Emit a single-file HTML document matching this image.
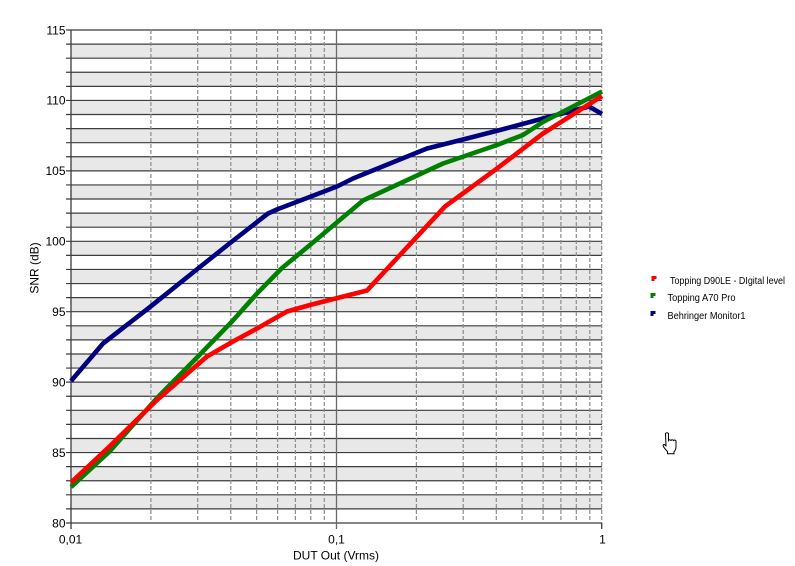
<!DOCTYPE html>
<html><head><meta charset="utf-8"><style>
html,body{margin:0;padding:0;background:#fff;}
svg{display:block;}
text{font-family:"Liberation Sans",Arial,sans-serif;fill:#000;}
</style></head><body>
<svg width="795" height="566" viewBox="0 0 795 566" xmlns="http://www.w3.org/2000/svg">
<rect width="795" height="566" fill="#fff"/>
<g id="bands" fill="#e8e8e8">
<rect x="71" y="44.09" width="531" height="14.09"/>
<rect x="71" y="72.26" width="531" height="14.09"/>
<rect x="71" y="100.43" width="531" height="14.09"/>
<rect x="71" y="128.60" width="531" height="14.09"/>
<rect x="71" y="156.77" width="531" height="14.09"/>
<rect x="71" y="184.94" width="531" height="14.09"/>
<rect x="71" y="213.11" width="531" height="14.09"/>
<rect x="71" y="241.29" width="531" height="14.09"/>
<rect x="71" y="269.46" width="531" height="14.09"/>
<rect x="71" y="297.63" width="531" height="14.09"/>
<rect x="71" y="325.80" width="531" height="14.09"/>
<rect x="71" y="353.97" width="531" height="14.09"/>
<rect x="71" y="382.14" width="531" height="14.09"/>
<rect x="71" y="410.31" width="531" height="14.09"/>
<rect x="71" y="438.49" width="531" height="14.09"/>
<rect x="71" y="466.66" width="531" height="14.09"/>
<rect x="71" y="494.83" width="531" height="14.09"/>
</g>
<g id="hgrid" stroke="#3c3c3c" stroke-width="1.2">
<line x1="66" x2="602" y1="30" y2="30"/>
<line x1="66" x2="602" y1="44.09" y2="44.09"/>
<line x1="66" x2="602" y1="58.17" y2="58.17"/>
<line x1="66" x2="602" y1="72.26" y2="72.26"/>
<line x1="66" x2="602" y1="86.34" y2="86.34"/>
<line x1="66" x2="602" y1="100.43" y2="100.43"/>
<line x1="66" x2="602" y1="114.51" y2="114.51"/>
<line x1="66" x2="602" y1="128.60" y2="128.60"/>
<line x1="66" x2="602" y1="142.69" y2="142.69"/>
<line x1="66" x2="602" y1="156.77" y2="156.77"/>
<line x1="66" x2="602" y1="170.86" y2="170.86"/>
<line x1="66" x2="602" y1="184.94" y2="184.94"/>
<line x1="66" x2="602" y1="199.03" y2="199.03"/>
<line x1="66" x2="602" y1="213.11" y2="213.11"/>
<line x1="66" x2="602" y1="227.20" y2="227.20"/>
<line x1="66" x2="602" y1="241.29" y2="241.29"/>
<line x1="66" x2="602" y1="255.37" y2="255.37"/>
<line x1="66" x2="602" y1="269.46" y2="269.46"/>
<line x1="66" x2="602" y1="283.54" y2="283.54"/>
<line x1="66" x2="602" y1="297.63" y2="297.63"/>
<line x1="66" x2="602" y1="311.71" y2="311.71"/>
<line x1="66" x2="602" y1="325.80" y2="325.80"/>
<line x1="66" x2="602" y1="339.89" y2="339.89"/>
<line x1="66" x2="602" y1="353.97" y2="353.97"/>
<line x1="66" x2="602" y1="368.06" y2="368.06"/>
<line x1="66" x2="602" y1="382.14" y2="382.14"/>
<line x1="66" x2="602" y1="396.23" y2="396.23"/>
<line x1="66" x2="602" y1="410.31" y2="410.31"/>
<line x1="66" x2="602" y1="424.40" y2="424.40"/>
<line x1="66" x2="602" y1="438.49" y2="438.49"/>
<line x1="66" x2="602" y1="452.57" y2="452.57"/>
<line x1="66" x2="602" y1="466.66" y2="466.66"/>
<line x1="66" x2="602" y1="480.74" y2="480.74"/>
<line x1="66" x2="602" y1="494.83" y2="494.83"/>
<line x1="66" x2="602" y1="508.91" y2="508.91"/>
<line x1="66" x2="602" y1="523" y2="523"/>
</g>
<g id="vgrid" stroke="#8c8c8c" stroke-width="1.2" stroke-dasharray="4,2">
<line x1="150.9" x2="150.9" y1="30" y2="523"/>
<line x1="197.7" x2="197.7" y1="30" y2="523"/>
<line x1="230.8" x2="230.8" y1="30" y2="523"/>
<line x1="256.6" x2="256.6" y1="30" y2="523"/>
<line x1="277.6" x2="277.6" y1="30" y2="523"/>
<line x1="295.4" x2="295.4" y1="30" y2="523"/>
<line x1="310.8" x2="310.8" y1="30" y2="523"/>
<line x1="324.3" x2="324.3" y1="30" y2="523"/>
<line x1="416.4" x2="416.4" y1="30" y2="523"/>
<line x1="463.2" x2="463.2" y1="30" y2="523"/>
<line x1="496.3" x2="496.3" y1="30" y2="523"/>
<line x1="522.1" x2="522.1" y1="30" y2="523"/>
<line x1="543.1" x2="543.1" y1="30" y2="523"/>
<line x1="560.9" x2="560.9" y1="30" y2="523"/>
<line x1="576.3" x2="576.3" y1="30" y2="523"/>
<line x1="589.8" x2="589.8" y1="30" y2="523"/>
<line x1="601.7" x2="601.7" y1="30" y2="523"/>
</g>
<line x1="336.5" x2="336.5" y1="30" y2="529" stroke="#6a6a6a" stroke-width="1.3"/>
<line x1="71" x2="71" y1="30" y2="529" stroke="#3c3c3c" stroke-width="1.3"/>
<line x1="601.7" x2="601.7" y1="523" y2="529" stroke="#3c3c3c" stroke-width="1.3"/>

<g fill="none" stroke-width="4.6" stroke-linejoin="round" stroke-linecap="butt">
<polyline stroke="#000080" points="71,381 103,343.5 150,307 198,268.5 232,241.5 268,213.5 278,209 307,198 337,186.5 353,178.5 427,148.5 463,139.5 500,130 543,118.5 589,106.5 602,114"/>
<polyline stroke="#008000" points="71,487 110,451 157,398 198,356.5 232,321.5 257,293.5 282,268 310,245 363,200.5 443,163.5 497,145 523,135 543,122 602,91.5"/>
<polyline stroke="#ff0000" points="71,482.5 110,446 157,400 207,356.5 233,341.5 257,328.5 287,311.5 310,305 367,290.5 445,206.5 497,168.5 543,133.5 602,96"/>
</g>

<g font-size="12" text-anchor="end">
<text x="65.5" y="34.3">115</text>
<text x="65.5" y="104.7">110</text>
<text x="65.5" y="175.2">105</text>
<text x="65.5" y="245.6">100</text>
<text x="65.5" y="316">95</text>
<text x="65.5" y="386.4">90</text>
<text x="65.5" y="456.9">85</text>
<text x="65.5" y="527.3">80</text>
</g>
<g font-size="12" text-anchor="middle">
<text x="70.5" y="543.5">0,01</text>
<text x="336.5" y="543.5">0,1</text>
<text x="602.5" y="543.5">1</text>
<text x="336" y="559.5">DUT Out (Vrms)</text>
<text transform="translate(38.5,268) rotate(-90)" x="0" y="0">SNR (dB)</text>
</g>

<g>
<path d="M651.5,276 h5 v3 h-2 v2 h-3 z" fill="#ff0000"/>
<path d="M650.5,293 h5 v3 h-2 v2 h-3 z" fill="#008000"/>
<path d="M650.5,311 h5 v3 h-2 v2 h-3 z" fill="#000080"/>
</g>
<g font-size="10">
<text x="670" y="284" textLength="115" lengthAdjust="spacingAndGlyphs">Topping D90LE - DIgital level</text>
<text x="667.5" y="301" textLength="68" lengthAdjust="spacingAndGlyphs">Topping A70 Pro</text>
<text x="667.5" y="319" textLength="78" lengthAdjust="spacingAndGlyphs">Behringer Monitor1</text>
</g>

<path d="M665.5,433.5 q1.5,-1.5 3,0 v7 q1,-1.5 2.5,0 q1,-1.5 2.5,0 q1,-1.2 2.5,0.3 v6 q0,3 -2,5 v2 h-6.5 v-2 l-4,-5 q-1,-2 0.5,-2.5 l2,1.5 z" fill="#fff" stroke="#000" stroke-width="1"/>
</svg>
</body></html>
